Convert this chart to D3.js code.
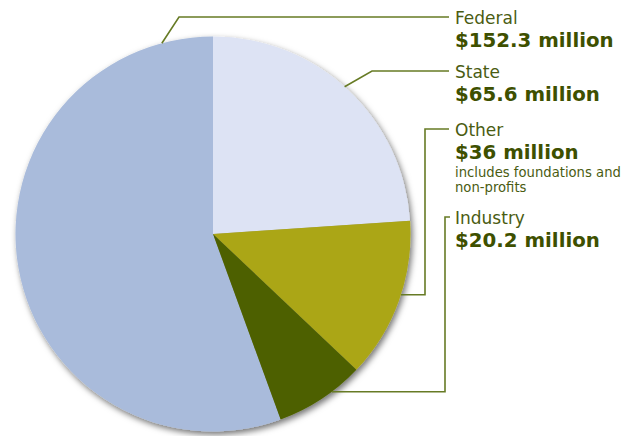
<!DOCTYPE html>
<html>
<head>
<meta charset="utf-8">
<script src="https://cdn.jsdelivr.net/npm/d3@7"></script>
<style>
  body { margin: 0; background: #fff; }
  svg { display: block; }
  text { font-family: "DejaVu Sans", Verdana, sans-serif; }
</style>
</head>
<body>
<script>
// funding sources, in millions of dollars
var categories = ["Federal", "State", "Other", "Industry"];
var values = [152.3, 65.6, 36, 20.2];
var amountLabels = ["$152.3 million", "$65.6 million", "$36 million", "$20.2 million"];
var notes = [[], [], ["includes foundations and", "non-profits"], []];
var colors = ["#a9bbdb", "#dde3f4", "#aba619", "#4e6000"];

var width = 638, height = 436;
var cx = 213, cy = 234, radius = 197.5;

// where along each slice the leader line starts (0 = slice start, 1 = slice end)
var anchorAt = [0.925, 0.485, 0.46, 0.36];
// leader routes: "diag" goes up to the label row, "elbow" goes out then up
var routes = [
  { kind: "diag", elbowX: 179, rowY: 17 },
  { kind: "diag", elbowX: 372, rowY: 71 },
  { kind: "elbow", elbowX: 425, rowY: 129 },
  { kind: "elbow", elbowX: 445, rowY: 217 }
];
var lineEndX = 449, textX = 455;

var svg = d3.select("body").append("svg")
  .attr("width", width).attr("height", height);

var defs = svg.append("defs");
var f = defs.append("filter").attr("id", "shadow")
  .attr("x", "-10%").attr("y", "-10%").attr("width", "120%").attr("height", "120%");
f.append("feDropShadow")
  .attr("dx", 2).attr("dy", 3).attr("stdDeviation", 3)
  .attr("flood-color", "#000").attr("flood-opacity", 0.55);

var total = d3.sum(values);
var start = -2 * Math.PI * values[0] / total; // Federal ends at 12 o'clock

var pie = d3.pie().sort(null).value(function(d) { return d; })
  .startAngle(start).endAngle(start + 2 * Math.PI);
var arcs = pie(values);

var arc = d3.arc().innerRadius(0).outerRadius(radius);

var g = svg.append("g").attr("transform", "translate(" + cx + "," + cy + ")");
g.append("g").attr("filter", "url(#shadow)")
  .selectAll("path").data(arcs).enter().append("path")
  .attr("d", arc)
  .attr("fill", function(d, i) { return colors[i]; });

// leader lines
arcs.forEach(function(d, i) {
  var a = d.startAngle + (d.endAngle - d.startAngle) * anchorAt[i];
  var ex = cx + radius * Math.sin(a), ey = cy - radius * Math.cos(a);
  var r = routes[i];
  var pts;
  if (r.kind === "diag") {
    pts = [[ex, ey], [r.elbowX, r.rowY], [lineEndX, r.rowY]];
  } else {
    var endX = i === 3 ? lineEndX + 1 : lineEndX;
    pts = [[ex, ey], [r.elbowX, ey], [r.elbowX, r.rowY], [endX, r.rowY]];
  }
  svg.append("path")
    .attr("d", d3.line()(pts))
    .attr("fill", "none")
    .attr("stroke", "#677b25")
    .attr("stroke-width", 1.6);

  var t = svg.append("g");
  t.append("text")
    .attr("x", textX).attr("y", r.rowY + 6.5)
    .attr("font-size", 17).attr("fill", "#4a5c12")
    .text(categories[i]);
  t.append("text")
    .attr("x", textX).attr("y", r.rowY + 30)
    .attr("font-size", 19.8).attr("font-weight", "bold").attr("fill", "#3e5000")
    .text(amountLabels[i]);
  notes[i].forEach(function(n, k) {
    t.append("text")
      .attr("x", textX).attr("y", r.rowY + 48 + k * 15)
      .attr("font-size", 13.2).attr("fill", "#4a5c12")
      .text(n);
  });
});
</script>
</body>
</html>
